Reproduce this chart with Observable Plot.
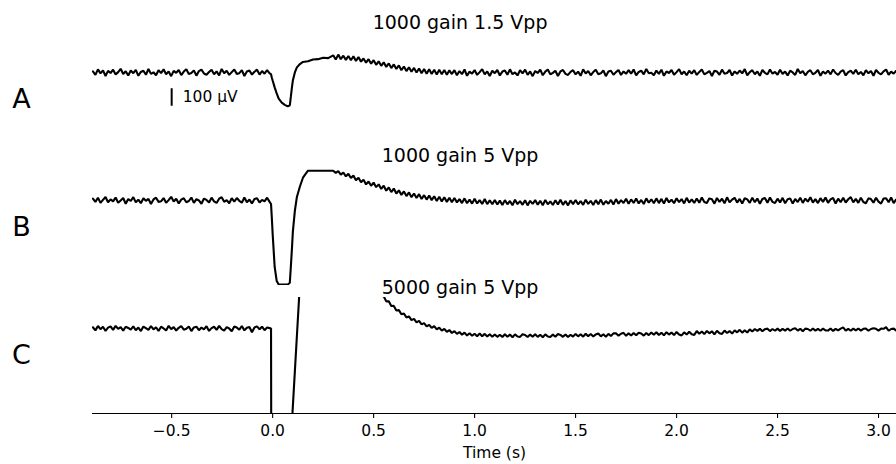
<!DOCTYPE html>
<html>
<head>
<meta charset="utf-8">
<script src="https://cdn.jsdelivr.net/npm/d3@7"></script>
<script src="https://cdn.jsdelivr.net/npm/@observablehq/plot@0.6"></script>
<style>
  html, body { margin: 0; padding: 0; background: #fff; }
  #chart { width: 896px; height: 464px; }
</style>
</head>
<body>
<div id="chart"></div>
<script>
// Panels and their titles
const panels = ["A", "B", "C"];
const titles = ["1000 gain 1.5 Vpp", "1000 gain 5 Vpp", "5000 gain 5 Vpp"];
const xTicks = [-0.5, 0, 0.5, 1, 1.5, 2, 2.5, 3];

// Sampling: regular segments before and after the stimulus, and explicit samples around it
const sampleInterval = 0.0125;   // s
const preStart = -0.89;          // s
const postStart = 0.3;           // s
const timeTransient = [-0.008,-0.004,0,0.01,0.02,0.03,0.045,0.06,0.075,0.085,0.09,0.095,0.1,0.11,0.12,0.135,0.15,0.175,0.2,0.225,0.25,0.275];

// Trace A (µV, relative to baseline)
const traceAPre = [
  6,-14,18,-5,12,-20,9,-3,16,-11,2,21,-9,7,-17,11,
  -4,15,-19,3,10,-13,20,-8,1,-16,13,-4,18,-10,6,-21,
  9,-2,14,-15,5,19,-9,-3,12,-18,8,16,-6,-13,3,15,
  -10,6,-17,20,-5,10,-14,2,17,-8,-4,13,-20,6,11,-12,
  4,16,-12,8,-7,14,-5];
const traceATransient = [-10,-30,-46,-85,-120,-150,-172,-185,-194,-188,-140,-90,-46,0,29,48,60,64,74,76,84,82];
const traceAPost = [
  98,74,102,76,96,72,94,70,92,66,88,62,80,56,76,50,
  70,44,64,38,58,32,52,25,46,20,40,13,34,8,30,4,
  26,0,23,-4,20,-7,18,-9,16,-11,15,-10,14,-13,12,-9,
  13,-16,8,-10,17,-19,5,-7,14,-14,2,19,-11,6,-20,10,
  -4,14,-17,5,11,-13,18,-10,0,-17,13,-5,16,-14,6,-21,
  8,-3,16,-16,5,17,-11,-2,10,-20,6,14,-8,-14,3,13,
  -11,5,-19,18,-6,8,-16,2,16,-10,-5,11,-21,5,10,-13,
  2,14,-14,6,-8,13,-7,17,-17,3,10,-11,20,-5,-2,-16,
  11,-8,16,-19,6,-3,14,-13,2,19,-10,5,-16,10,-7,13,
  -14,3,17,-11,-2,8,-20,10,5,-13,16,-7,-3,14,-17,6,
  -8,11,-5,19,-16,2,13,-10,6,-19,14,-2,-11,17,-7,3,
  -13,16,-8,5,-17,10,0,-14,20,-5,8,-16,3,13,-10,-2,
  14,-19,6,-7,11,-11,17,-3,-14,5,13,-17,2,10,-8,16,
  -10,3,-16,13,-5,8,-19,14,-2,-11,6,17,-13,5,-7,10,
  -3];

// Trace B
const traceBPre = [
  11,-8,16,-14,3,20,-10,6,-5,17,-13,0,14,-19,8,-3,
  19,-11,5,-16,13,-2,9,-20,6,16,-8,-5,14,-13,2,21,
  -6,10,-17,5,13,-10,-3,17,-14,8,0,-19,11,3,-11,16,
  -5,-14,10,19,-8,2,-16,13,-6,14,-2,-13,17,-10,5,-17,
  8,13,-11,3,-5,16,-8];
const traceBTransient = [-20,-100,-190,-380,-460,-480,-480,-480,-480,-470,-380,-285,-180,-60,20,80,130,170,170,170,170,170];
const traceBPost = [
  170,158,168,148,160,138,152,128,142,116,130,104,118,92,108,84,
  102,76,92,66,84,56,74,48,68,40,58,32,52,25,46,19,
  40,14,36,9,30,5,28,2,24,-3,21,-6,18,-8,16,-10,
  14,-11,8,-15,12,-16,5,-18,10,-17,2,-20,8,-21,1,-22,
  3,-23,-1,-26,2,-22,-3,-27,4,-21,-4,-25,1,-28,-2,-20,
  2,-24,-2,-27,3,-22,-5,-26,1,-23,4,-25,-3,-28,0,-21,
  3,-22,-4,-25,4,-20,-2,-26,2,-21,5,-24,-3,-19,3,-23,
  8,-18,2,-15,10,-19,6,-14,11,-17,3,-20,12,-13,7,-16,
  12,-15,9,-18,14,-11,5,-16,13,-10,8,-17,15,-12,6,-14,
  11,-13,17,-9,-15,12,7,-18,14,-8,10,-16,18,-11,5,15,
  -12,9,-17,13,6,-14,16,-10,11,-19,8,14,-13,17,-8,-15,
  10,-11,15,-16,7,12,-18,9,-9,16,-14,11,-7,18,-12,8,
  -15,13,-8,17,-13,6,14,-17,10,-10,15,-12,7,19,-11,9,
  -14,16,-9,-16,12,8,-13,15,-7,-18,11,13,-10,17,-15,6,
  -2];

// Trace C
const traceCPre = [
  7,-11,14,-4,10,-14,5,12,-8,15,-2,8,-12,10,3,-7,
  12,-10,5,-15,11,2,-8,14,-5,7,-14,10,0,-11,15,-4,
  8,-12,4,14,-7,-2,11,-15,6,10,-10,5,-5,13,-14,2,
  10,-8,15,-4,-12,8,0,-16,11,5,-7,14,-11,4,8,-22,
  6,12,-5,10,-10,5,2];
const traceCTransient = [0,-2400,-2600,-2700,-2700,-2700,-2700,-2700,-2600,-1800,-900,-546,-446,-245,-44,257,558,900,1050,1100,1050,950];
const traceCPost = [
  820,760,700,650,600,555,510,475,440,410,380,355,330,307,285,265,
  252,220,217,186,184,155,155,128,129,103,105,81,85,63,69,48,
  55,35,43,23,31,12,21,3,13,-5,5,-12,-2,-19,-9,-26,
  -15,-31,-20,-36,-24,-40,-27,-42,-30,-44,-29,-44,-31,-46,-33,-47,
  -34,-48,-36,-49,-33,-47,-35,-50,-34,-46,-48,-33,-37,-49,-35,-47,
  -33,-48,-36,-50,-34,-46,-49,-35,-47,-32,-37,-48,-34,-49,-36,-46,
  -31,-45,-33,-47,-30,-44,-32,-46,-34,-29,-45,-33,-47,-31,-43,-28,
  -27,-41,-30,-25,-42,-28,-40,-26,-39,-24,-29,-41,-26,-38,-23,-36,
  -22,-37,-24,-39,-21,-35,-23,-38,-20,-34,-40,-22,-35,-19,-33,-37,
  -15,-30,-17,-32,-14,-28,-16,-34,-13,-27,-31,-12,-26,-15,-29,-11,
  -22,-8,-24,-10,-23,-5,-17,-3,-14,-2,-16,-4,-1,-15,-3,-13,
  -1,-14,-2,-12,0,-13,-3,1,-12,-2,-16,-1,-3,-13,0,-12,
  -2,-13,-1,-11,-12,0,-14,-2,-11,-1,6,-12,-2,-13,-1,-11,
  0,-12,-2,-1,-13,-3,1,-2,-12,-1,-2,8,-13,-3,-1,-12,
  -2];

// Scale bar (µV)
const scaleBarTime = -0.5;
const scaleBarBottom = -193;
const scaleBarSize = 100;
const scaleBarLabel = "100 µV";

// Visible window
const xDomain = [-0.892, 3.089];
const yDomain = [-486, 177];

// Build a tidy table
const tracePieces = {
  A: [traceAPre, traceATransient, traceAPost],
  B: [traceBPre, traceBTransient, traceBPost],
  C: [traceCPre, traceCTransient, traceCPost]
};
const rows = [];
for (const p of panels) {
  const [pre, mid, post] = tracePieces[p];
  pre.forEach((v, i) => rows.push({trace: p, time: preStart + i * sampleInterval, uv: v}));
  mid.forEach((v, i) => rows.push({trace: p, time: timeTransient[i], uv: v}));
  post.forEach((v, i) => rows.push({trace: p, time: postStart + i * sampleInterval, uv: v}));
}
const titleRows = panels.map((p, i) => ({trace: p, title: titles[i]}));
const titleTime = 0.928;

const font = "DejaVu Sans, sans-serif";
const titleOffsets = {A: -19, B: -14, C: -10};

const chart = Plot.plot({
  width: 896,
  height: 464,
  marginLeft: 92,
  marginRight: 0,
  marginTop: 41,
  marginBottom: 51,
  style: {fontFamily: font, background: "white", color: "black", overflow: "visible"},
  x: {domain: xDomain, axis: null},
  y: {domain: yDomain, axis: null},
  fy: {domain: panels, paddingInner: 0.09375, paddingOuter: 0, axis: null},
  marks: [
    Plot.line(rows, {x: "time", y: "uv", fy: "trace", stroke: "black", strokeWidth: 2.1, strokeLinejoin: "miter", clip: true}),
    Plot.ruleY([{trace: "C", y: yDomain[0]}], {y: "y", fy: "trace", stroke: "black", strokeWidth: 1.1}),
    Plot.axisX({ticks: xTicks, tickFormat: d3.format(".1f"), tickSize: 5, tickPadding: 6, fontSize: 15.5, label: null, strokeWidth: 1.1}),
    Plot.text(["Time (s)"], {fy: ["C"], frameAnchor: "bottom", lineAnchor: "middle", dy: 40, text: d => d, fontSize: 15.5}),
    Plot.text(panels, {fy: d => d, text: d => d, frameAnchor: "left", textAnchor: "middle", dx: -71, fontSize: 27}),
    ...panels.map(p => Plot.text(titleRows.filter(d => d.trace === p), {fy: "trace", x: () => titleTime, text: "title", frameAnchor: "top", lineAnchor: "middle", dy: titleOffsets[p], fontSize: 19})),
    Plot.ruleX([{trace: "A", time: scaleBarTime, y1: scaleBarBottom, y2: scaleBarBottom + scaleBarSize}], {x: "time", y1: "y1", y2: "y2", fy: "trace", stroke: "black", strokeWidth: 2}),
    Plot.text([{trace: "A", time: scaleBarTime, y: scaleBarBottom + scaleBarSize / 2, label: scaleBarLabel}], {x: "time", y: "y", fy: "trace", text: "label", textAnchor: "start", dx: 11, fontSize: 15.5})
  ]
});
document.getElementById("chart").appendChild(chart);
</script>
</body>
</html>
